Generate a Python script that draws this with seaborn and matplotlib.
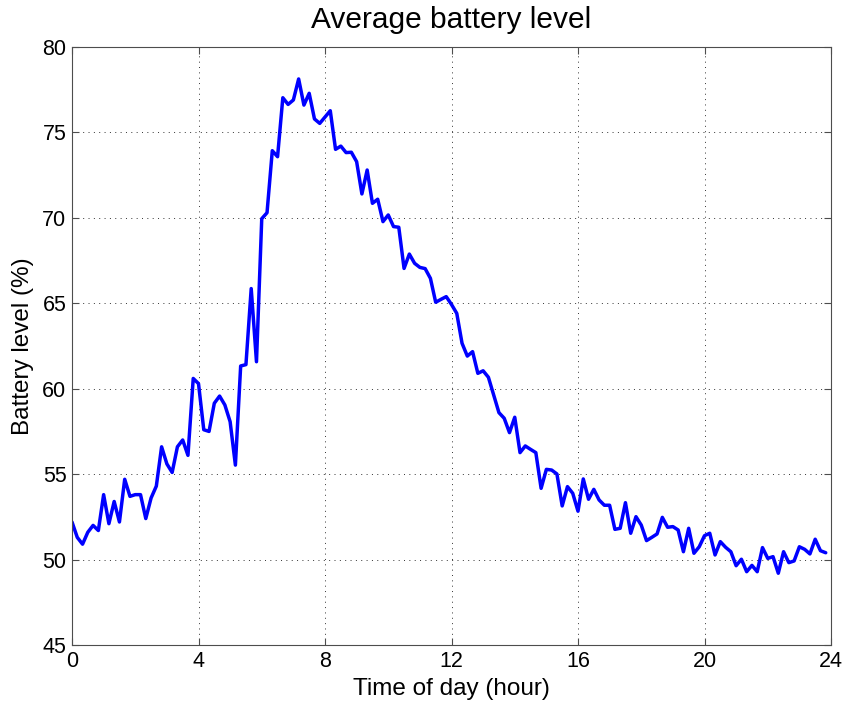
import numpy as np
import pandas as pd
import matplotlib
matplotlib.use("Agg")
import matplotlib.pyplot as plt
import seaborn as sns

# Battery level sampled every 10 minutes (hour = index / 6)
battery = [
    52.2, 51.3, 50.9, 51.6, 52.0, 51.7, 53.8, 52.1, 53.4, 52.2,
    54.7, 53.7, 53.8, 53.8, 52.4, 53.6, 54.3, 56.6, 55.6, 55.1,
    56.6, 57.0, 56.1, 60.6, 60.3, 57.6, 57.5, 59.15, 59.57, 59.05,
    58.07, 55.53, 61.33, 61.41, 65.86, 61.58, 69.95, 70.3, 73.93, 73.58,
    77.03, 76.64, 76.9, 78.13, 76.6, 77.29, 75.79, 75.53, 75.9, 76.27,
    74.01, 74.2, 73.82, 73.84, 73.29, 71.4, 72.8, 70.85, 71.09, 69.78,
    70.17, 69.49, 69.45, 67.04, 67.88, 67.34, 67.1, 67.03, 66.46, 65.06,
    65.23, 65.39, 64.93, 64.41, 62.66, 61.91, 62.17, 60.9, 61.05, 60.67,
    59.63, 58.6, 58.27, 57.43, 58.33, 56.26, 56.65, 56.45, 56.26, 54.17,
    55.28, 55.24, 55.01, 53.14, 54.27, 53.88, 52.83, 54.72, 53.53, 54.11,
    53.49, 53.18, 53.18, 51.77, 51.83, 53.33, 51.54, 52.51, 52.02, 51.11,
    51.3, 51.5, 52.47, 51.89, 51.93, 51.73, 50.46, 51.83, 50.37, 50.75,
    51.4, 51.54, 50.27, 51.05, 50.72, 50.46, 49.64, 50.02, 49.29, 49.66,
    49.29, 50.7, 50.07, 50.17, 49.2, 50.46, 49.82, 49.92, 50.75, 50.6,
    50.33, 51.19, 50.52, 50.4,
]
hours = [i / 6 for i in range(len(battery))]

x_ticks = [0, 4, 8, 12, 16, 20, 24]
y_ticks = [45, 50, 55, 60, 65, 70, 75, 80]

df = pd.DataFrame({"hour": hours, "battery": battery})

sns.set_style("white")
plt.rcParams["font.family"] = ["Liberation Sans", "DejaVu Sans"]
plt.rcParams["text.color"] = "black"
plt.rcParams["axes.labelcolor"] = "black"
plt.rcParams["xtick.color"] = "black"
plt.rcParams["ytick.color"] = "black"

fig = plt.figure(figsize=(8.48, 7.07), dpi=100)
ax = fig.add_axes([72 / 848, 62 / 707, 759 / 848, 598 / 707])

sns.lineplot(data=df, x="hour", y="battery", color=(0, 0, 1), linewidth=2.5, ax=ax)

ax.set_xlim(0, 24)
ax.set_ylim(45, 80)
ax.set_xticks(x_ticks)
ax.set_yticks(y_ticks)
ax.set_xticklabels([str(t) for t in x_ticks], fontsize=15.5)
ax.set_yticklabels([str(t) for t in y_ticks], fontsize=15.5)
ax.grid(True, color="0.2", linestyle=(0, (1, 4.5)), linewidth=0.7)
ax.tick_params(direction="in", length=5, width=0.8, color="0.3",
               labelcolor="black",
               top=True, right=True, bottom=True, left=True, pad=4)
for s in ax.spines.values():
    s.set_color("0.3")
    s.set_linewidth(0.8)
    s.set_visible(True)

ax.set_title("Average battery level", fontsize=21.5, pad=13.5, color="black")
ax.set_xlabel("Time of day (hour)", fontsize=17.5, labelpad=4.5, color="black")
ax.set_ylabel("Battery level (%)", fontsize=17.5, labelpad=6, color="black")

fig.savefig("out.png", dpi=100)
